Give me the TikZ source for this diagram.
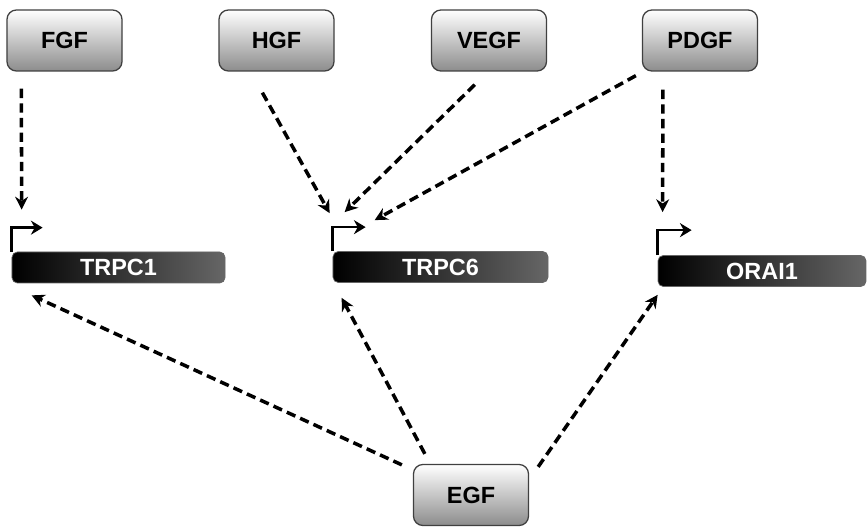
\documentclass[tikz,border=0pt]{standalone}
\usepackage{fontspec}
\setmainfont{Liberation Sans}
\usetikzlibrary{arrows.meta,calc}
\tikzset{
  factor/.style={draw=black!75,line width=1.1pt,rounded corners=8pt,
    top color=white,bottom color=black!45,minimum width=3.45cm,
    minimum height=1.83cm,font=\fontsize{20}{22}\selectfont\bfseries},
  gene/.style={draw=black!60,line width=0.6pt,rounded corners=4.5pt,
    left color=black,middle color=black!92,right color=black!60,
    minimum height=0.93cm,text=white,
    font=\fontsize{20}{22}\selectfont\bfseries},
  signal/.style={->,line width=3pt,dash pattern=on 8pt off 4.5pt},
  promoter/.style={-{Stealth[length=10pt,width=12pt]},line width=2.3pt},
}
\begin{document}
\begin{tikzpicture}[x=0.03cm,y=0.03cm,>={Stealth[length=11pt,width=11pt]}]
  \useasboundingbox (0,0) rectangle (867,526);
  % growth factors
  \node[factor] (fgf) at (64.5,485.5) {FGF};
  \node[factor] (hgf) at (276.5,485.5) {HGF};
  \node[factor] (vegf) at (489,485.5) {VEGF};
  \node[factor] (pdgf) at (700,485.5) {PDGF};
  \node[factor] (egf) at (471,31) {EGF};
  % target genes
  \node[gene,minimum width=6.39cm] (trpc1) at (118.5,258.5) {TRPC1};
  \node[gene,minimum width=6.45cm] (trpc6) at (440.5,259) {TRPC6};
  \node[gene,minimum width=6.24cm] (orai1) at (762,255) {ORAI1};
  % transcription start sites
  \draw[promoter] (trpc1.north west) -- ++(0,24) -- ++(31,0);
  \draw[promoter] (trpc6.north west) -- ++(0,24) -- ++(33,0);
  \draw[promoter] (orai1.north west) -- ++(0,25) -- ++(34,0);
  % upstream signals
  \draw[signal] ($(fgf.south west)+(15,-17)$) -- ($(trpc1.north west)+(10,42)$);
  \draw[signal] ($(hgf.south west)+(44,-21)$) -- ($(trpc6.north west)+(-3,38)$);
  \draw[signal] ($(vegf.south west)+(44,-13)$) -- ($(trpc6.north west)+(12,39)$);
  \draw[signal] ($(pdgf.south west)+(-6,-4)$) -- ($(trpc6.north west)+(42,31)$);
  \draw[signal] ($(pdgf.south west)+(21,-18)$) -- ($(orai1.north west)+(5,43)$);
  % EGF acts on all three
  \draw[signal] ($(egf.north west)+(-11,-1)$) -- ($(trpc1.south west)+(20,-12)$);
  \draw[signal] ($(egf.north west)+(12,10)$) -- ($(trpc6.south west)+(9,-15)$);
  \draw[signal] ($(egf.north east)+(9,-3)$) -- ($(orai1.south west)+(0,-8)$);
\end{tikzpicture}
\end{document}
